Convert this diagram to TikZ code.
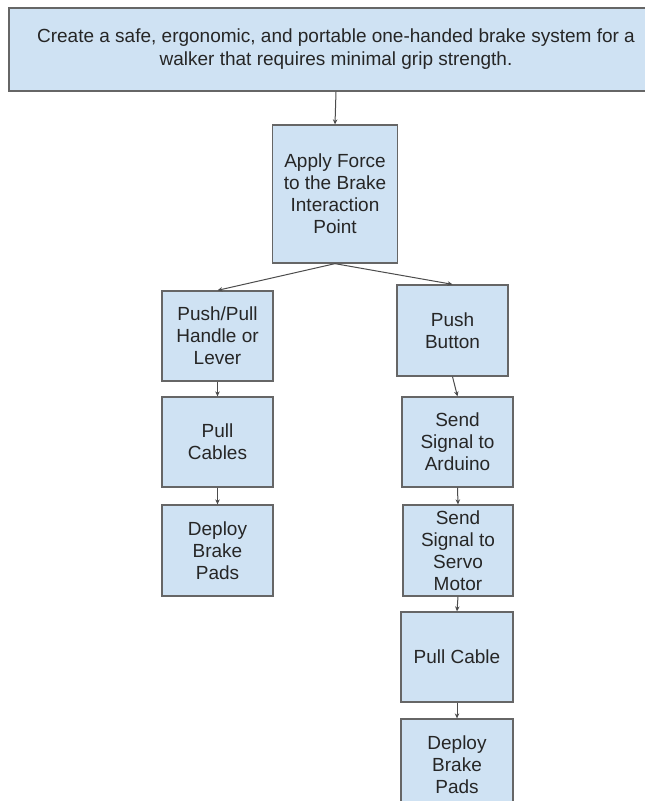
\documentclass[tikz,border=0pt]{standalone}
\usepackage{fontspec}
\setmainfont{Liberation Sans}
\usetikzlibrary{arrows.meta}
\definecolor{boxblue}{RGB}{207,226,243}
\definecolor{boxline}{RGB}{102,102,102}
\tikzset{
	stepbox/.style={draw=boxline, fill=boxblue, line width=1.3pt, align=center, text=black!85,
		font=\fontsize{19}{22}\selectfont, inner sep=0pt,
		minimum width=111pt, minimum height=90pt},
	flow/.style={-{Stealth[length=5pt,width=4.5pt]}, line width=1pt, color=black!70}
}

\begin{document}
\begin{tikzpicture}[x=1pt,y=-1pt]
		%%%%% START %%%%%
		\useasboundingbox (0,0) rectangle (645,801);
		\fill[white] (0,0) rectangle (645,801);
		
		\node[stepbox, minimum width=654pt, minimum height=83pt, font=\fontsize{19}{23}\selectfont] (goal) at (336,49.5)
			{Create a safe, ergonomic, and portable one-handed brake system for a\\walker that requires minimal grip strength.};
		\node[stepbox, minimum width=125pt, minimum height=138pt] (force) at (335,194)
			{Apply Force\\to the Brake\\Interaction\\Point};
		
		% left branch
		\node[stepbox] (lever) at (217.5,336) {Push/Pull\\Handle or\\Lever};
		\node[stepbox] (cables) at (217.5,442) {Pull\\Cables};
		\node[stepbox, minimum height=91pt] (padsL) at (217.5,550.5) {Deploy\\Brake\\Pads};
		
		% right branch
		\node[stepbox, minimum height=91pt] (button) at (452.5,330.5) {Push\\Button};
		\node[stepbox] (arduino) at (457.5,442) {Send\\Signal to\\Arduino};
		\node[stepbox, minimum width=110pt, minimum height=91pt] (servo) at (458,550.5) {Send\\Signal to\\Servo\\Motor};
		\node[stepbox, minimum width=112pt] (cable) at (457,657) {Pull Cable};
		\node[stepbox, minimum width=112pt, minimum height=92pt] (padsR) at (457,765) {Deploy\\Brake\\Pads};
		
		\draw[flow] (goal.south) -- (force.north);
		\draw[flow] (force.south) -- (lever.north);
		\draw[flow] (force.south) -- (button.north);
		\draw[flow] (lever.south) -- (cables.north);
		\draw[flow] (cables.south) -- (padsL.north);
		\draw[flow] (button.south) -- (arduino.north);
		\draw[flow] (arduino.south) -- (servo.north);
		\draw[flow] (servo.south) -- (cable.north);
		\draw[flow] (cable.south) -- (padsR.north);
		%%%%% END %%%%%
\end{tikzpicture}
\end{document}
